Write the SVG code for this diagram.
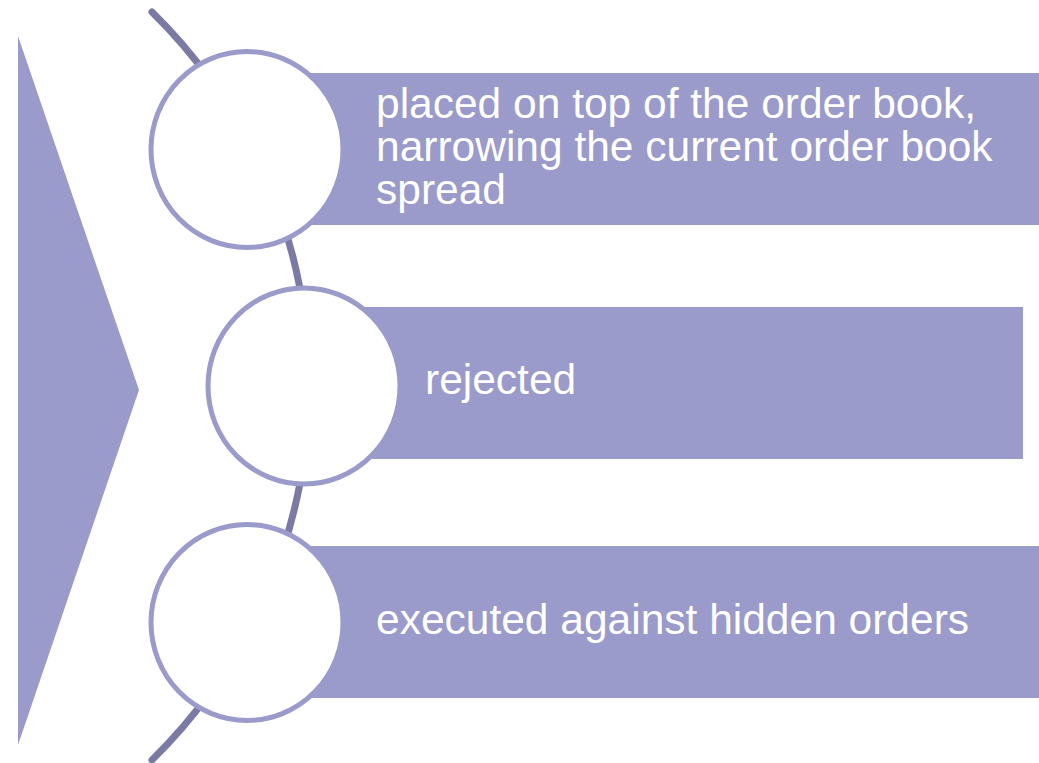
<svg xmlns="http://www.w3.org/2000/svg" width="1039" height="763" viewBox="0 0 1039 763">
  <style>
    .band { fill: #9a9acb; }
    .ring { fill: #ffffff; stroke: #9a9acb; stroke-width: 5; }
    .label { fill: #ffffff; font-family: "Liberation Sans", Arial, sans-serif; font-size: 42.5px; }
    .arc { fill: none; stroke: #7a7aa4; stroke-width: 7; stroke-linecap: round; }
  </style>
  <rect width="1039" height="763" fill="#ffffff"/>
  <g id="chevron">
    <polygon class="band" points="18,36 139,390 18,745"/>
  </g>
  <g id="connectors">
    <path class="arc" d="M152,12 A524,524 0 0 1 152,760"/>
  </g>
  <g id="node1">
    <rect class="band" x="247" y="73" width="792" height="152"/>
    <ellipse class="ring" cx="247" cy="149.5" rx="96" ry="98"/>
    <text class="label" x="376" y="118">placed on top of the order book,</text>
    <text class="label" x="376" y="161">narrowing the current order book</text>
    <text class="label" x="376" y="204">spread</text>
  </g>
  <g id="node2">
    <rect class="band" x="304" y="307" width="719" height="152"/>
    <ellipse class="ring" cx="304" cy="386" rx="96" ry="98"/>
    <text class="label" x="425" y="394">rejected</text>
  </g>
  <g id="node3">
    <rect class="band" x="247" y="546" width="792" height="152"/>
    <ellipse class="ring" cx="247" cy="622.5" rx="96" ry="98"/>
    <text class="label" x="376" y="634">executed against hidden orders</text>
  </g>
</svg>
